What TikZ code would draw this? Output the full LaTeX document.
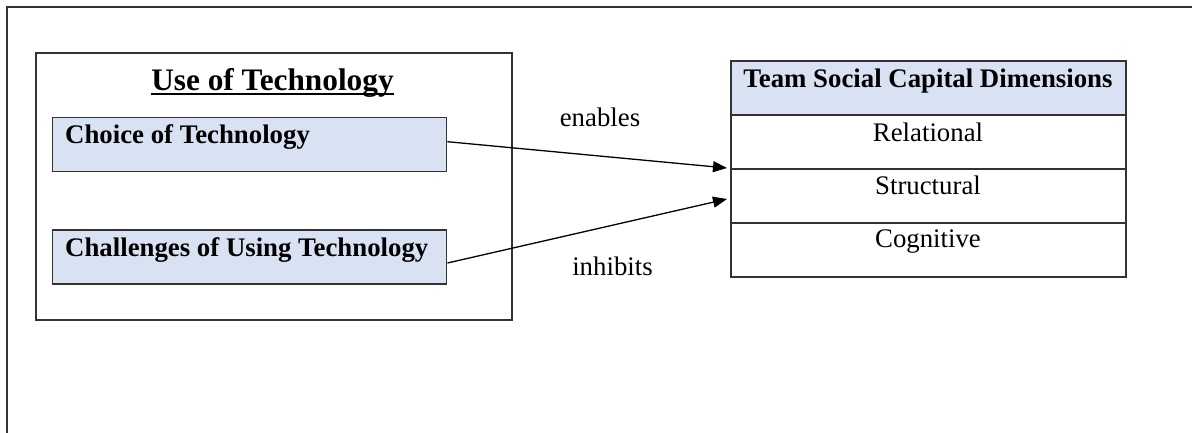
\documentclass[tikz,border=0pt]{standalone}
\usepackage{fontspec}
\setmainfont{Liberation Serif}
\usetikzlibrary{arrows.meta,calc}

\definecolor{boxfill}{HTML}{D9E2F3}
\definecolor{edge}{HTML}{333333}

\tikzset{
  frameline/.style={draw=edge, line width=1.4pt},
  techbox/.style={frameline, fill=boxfill, minimum width=394.5pt, minimum height=54pt, inner sep=0pt},
  groupbox/.style={frameline, minimum width=476pt, minimum height=267pt, inner sep=0pt},
  rowbox/.style={frameline, minimum width=395pt, minimum height=54pt, inner sep=0pt},
  headbox/.style={rowbox, fill=boxfill},
  txt/.style={inner sep=0pt, font=\fontsize{26.8}{32}\selectfont},
  boldtxt/.style={txt, font=\fontsize{26.8}{32}\selectfont\bfseries},
  titletxt/.style={inner sep=0pt, font=\fontsize{31.3}{36}\selectfont\bfseries},
  arr/.style={draw=black, line width=1.3pt, -{Triangle[length=14pt,width=11pt]}}
}

\begin{document}
\begin{tikzpicture}[x=1pt, y=-1pt]
  \useasboundingbox (0,0) rectangle (1192,432);

  % page frame (runs off the right and bottom edges)
  \draw[frameline] (1200,7) -- (7,7) -- (7,440);

  % left group: use of technology
  \node[groupbox] (group) at (274,186.5) {};
  \node[titletxt, anchor=base] (title) at (272.5,90) {Use of Technology};
  \draw[line width=2pt] ($(title.base west)+(0,4.3)$) -- ($(title.base east)+(0,4.3)$);

  \node[techbox] (choice) at (249.5,144.5) {};
  \node[boldtxt, anchor=base west] (choicetxt) at (65,143.3) {Choice of Technology};

  \node[techbox] (chall) at (249.5,257) {};
  \node[boldtxt, anchor=base west] (challtxt) at (65,256.7) {Challenges of Using Technology};

  % right table: team social capital dimensions
  \node[headbox] (head) at (928.5,88) {};
  \node[rowbox] (rel) at (928.5,142) {};
  \node[rowbox] (str) at (928.5,196) {};
  \node[rowbox] (cog) at (928.5,250) {};
  \node[boldtxt, anchor=base] (headtxt) at (928,87) {Team Social Capital Dimensions};
  \node[txt, anchor=base] (reltxt) at (928,141.7) {Relational};
  \node[txt, anchor=base] (strtxt) at (928,194.5) {Structural};
  \node[txt, anchor=base] (cogtxt) at (928,247.5) {Cognitive};

  % connectors
  \coordinate (tipA) at (727,168);
  \coordinate (tipB) at (727,199);
  \draw[arr] ($(choice.east)+(0,-2.8)$) -- (tipA);
  \draw[arr] ($(chall.east)+(0,6)$) -- (tipB);

  \node[txt, anchor=base] (enables) at (600,126) {enables};
  \node[txt, anchor=base] (inhibits) at (612.5,275.7) {inhibits};
\end{tikzpicture}
\end{document}
